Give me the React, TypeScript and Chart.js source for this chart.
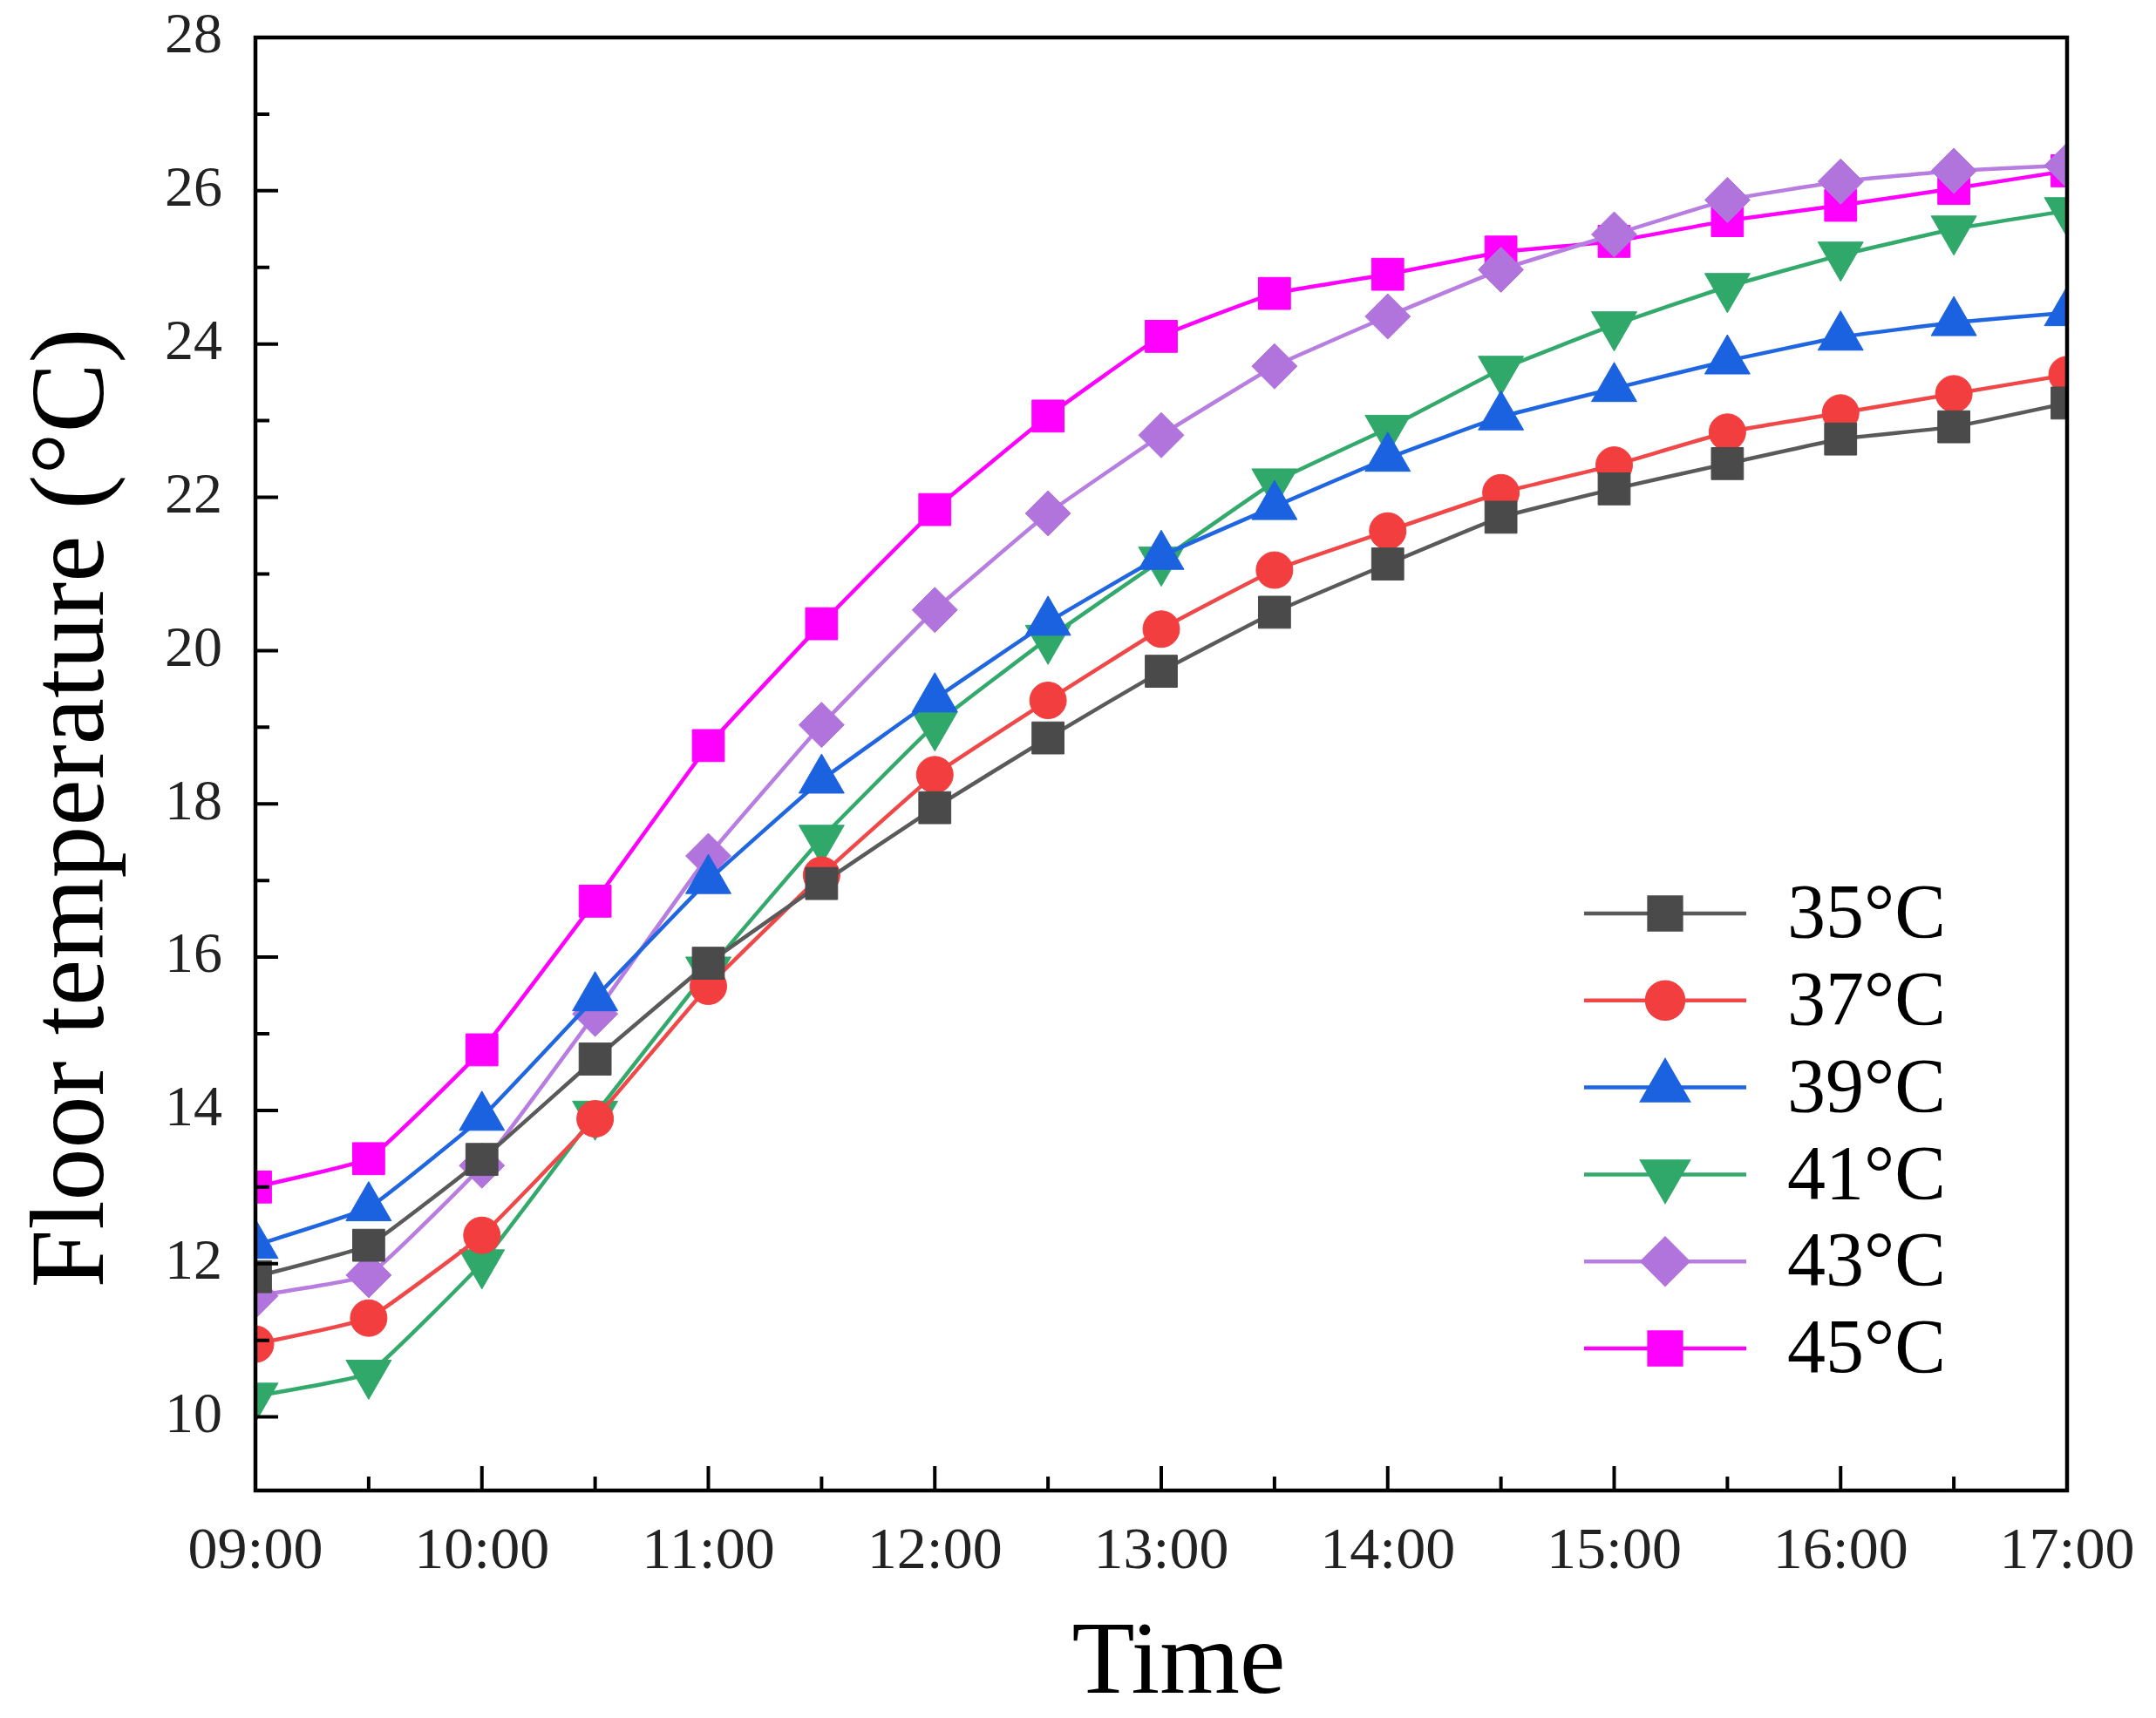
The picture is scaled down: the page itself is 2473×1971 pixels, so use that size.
import { useEffect, useRef } from 'react';
import { Chart, registerables } from 'chart.js';
import { drawPoint } from 'chart.js/helpers';

Chart.register(...registerables);

// time in hours (09:00 .. 17:00, every 30 min)
const times = [9, 9.5, 10, 10.5, 11, 11.5, 12, 12.5, 13, 13.5, 14, 14.5, 15, 15.5, 16, 16.5, 17];

const t35 = [11.83, 12.24, 13.36, 14.67, 15.92, 16.96, 17.95, 18.86, 19.73, 20.5, 21.13, 21.74, 22.11, 22.44, 22.76, 22.92, 23.23];
const t37 = [10.95, 11.29, 12.37, 13.89, 15.62, 17.07, 18.38, 19.35, 20.28, 21.05, 21.56, 22.06, 22.42, 22.85, 23.1, 23.35, 23.6];
const t39 = [12.24, 12.73, 13.91, 15.47, 17.0, 18.31, 19.37, 20.37, 21.23, 21.88, 22.51, 23.05, 23.42, 23.78, 24.09, 24.28, 24.41];
const t41 = [10.27, 10.57, 12.01, 13.95, 15.83, 17.55, 19.03, 20.16, 21.18, 22.2, 22.9, 23.67, 24.25, 24.75, 25.16, 25.5, 25.74];
const t43 = [11.58, 11.85, 13.28, 15.26, 17.32, 19.03, 20.53, 21.79, 22.81, 23.71, 24.36, 24.97, 25.43, 25.88, 26.12, 26.26, 26.33];
const t45 = [13.0, 13.37, 14.79, 16.73, 18.76, 20.35, 21.84, 23.06, 24.1, 24.66, 24.91, 25.2, 25.34, 25.61, 25.81, 26.03, 26.26];

const seriesNames = ['35°C', '37°C', '39°C', '41°C', '43°C', '45°C'];

const xMajorTicks = [9, 10, 11, 12, 13, 14, 15, 16, 17];
const xMinorTicks = [9.5, 10.5, 11.5, 12.5, 13.5, 14.5, 15.5, 16.5];
const xTickLabels = ['09:00', '10:00', '11:00', '12:00', '13:00', '14:00', '15:00', '16:00', '17:00'];
const yMajorTicks = [10, 12, 14, 16, 18, 20, 22, 24, 26, 28];
const yMinorTicks = [11, 13, 15, 17, 19, 21, 23, 25, 27];

const W = 2473;
const H = 1971;
const SERIF = '"Liberation Serif", "Times New Roman", serif';

const styles = [
    { line: '#5a5a5a', fill: '#4a4a4a', point: 'rect', rotation: 0, radius: 26 },
    { line: '#f04848', fill: '#f23e3e', point: 'circle', rotation: 0, radius: 21 },
    { line: '#1f66e0', fill: '#1a62e0', point: 'triangle', rotation: 0, radius: 30 },
    { line: '#33aa6c', fill: '#2fa86a', point: 'triangle', rotation: 180, radius: 30 },
    { line: '#b77de0', fill: '#b074dc', point: 'rectRot', rotation: 0, radius: 26 },
    { line: '#ff00ff', fill: '#ff00ff', point: 'rect', rotation: 0, radius: 26 },
];

const framePlugin = {
    id: 'frameAndLegend',
    afterDatasetsDraw(chart: any) {
        const { ctx, chartArea } = chart;
        const xs = chart.scales.x;
        const ys = chart.scales.y;
        ctx.save();
        ctx.strokeStyle = '#000';
        ctx.lineWidth = 4.5;
        ctx.strokeRect(chartArea.left, chartArea.top, chartArea.right - chartArea.left, chartArea.bottom - chartArea.top);

        // inward ticks
        ctx.lineWidth = 4;
        ctx.beginPath();
        xMajorTicks.forEach((v) => {
            const px = xs.getPixelForValue(v);
            ctx.moveTo(px, chartArea.bottom);
            ctx.lineTo(px, chartArea.bottom - 28);
        });
        xMinorTicks.forEach((v) => {
            const px = xs.getPixelForValue(v);
            ctx.moveTo(px, chartArea.bottom);
            ctx.lineTo(px, chartArea.bottom - 16);
        });
        yMajorTicks.forEach((v) => {
            const py = ys.getPixelForValue(v);
            ctx.moveTo(chartArea.left, py);
            ctx.lineTo(chartArea.left + 26, py);
        });
        yMinorTicks.forEach((v) => {
            const py = ys.getPixelForValue(v);
            ctx.moveTo(chartArea.left, py);
            ctx.lineTo(chartArea.left + 16, py);
        });
        ctx.stroke();

        // legend
        const lx1 = 1817;
        const lx2 = 2003;
        const mx = 1910;
        const tx = 2050;
        chart.data.datasets.forEach((ds: any, i: number) => {
            const y = 1048 + i * 99.8;
            const st = styles[i];
            ctx.strokeStyle = st.line;
            ctx.lineWidth = 4.5;
            ctx.beginPath();
            ctx.moveTo(lx1, y);
            ctx.lineTo(lx2, y);
            ctx.stroke();
            ctx.fillStyle = st.fill;
            ctx.strokeStyle = st.fill;
            drawPoint(ctx, { pointStyle: st.point, rotation: st.rotation, radius: st.radius, borderWidth: 1 }, mx, y);
            ctx.fillStyle = '#000';
            ctx.font = `88px ${SERIF}`;
            ctx.textAlign = 'left';
            ctx.textBaseline = 'middle';
            ctx.fillText(ds.label, tx, y + 4);
        });
        ctx.restore();
    },
    afterDraw(chart: any) {
        const { ctx } = chart;
        ctx.save();
        ctx.fillStyle = '#000';
        ctx.font = `120px ${SERIF}`;
        ctx.textAlign = 'center';
        ctx.textBaseline = 'alphabetic';
        ctx.translate(118, 927);
        ctx.rotate(-Math.PI / 2);
        ctx.fillText('Floor temperature (°C)', 0, 0);
        ctx.restore();

        ctx.save();
        ctx.fillStyle = '#000';
        ctx.font = `118px ${SERIF}`;
        ctx.textAlign = 'center';
        ctx.textBaseline = 'alphabetic';
        ctx.fillText('Time', 1352, 1942);
        ctx.restore();
    },
};

const allSeries = [t35, t37, t39, t41, t43, t45];

export default function App() {
    const canvasRef = useRef<HTMLCanvasElement>(null);

    useEffect(() => {
        document.body.style.margin = '0';
        if (!canvasRef.current) return;
        const ctx = canvasRef.current.getContext('2d');
        if (!ctx) return;

        const chart = new Chart(ctx, {
            type: 'line',
            data: {
                datasets: allSeries.map((s, i) => ({
                    label: seriesNames[i],
                    data: s.map((v, j) => ({ x: times[j], y: v })),
                    borderColor: styles[i].line,
                    backgroundColor: styles[i].fill,
                    borderWidth: 4.5,
                    pointStyle: styles[i].point as any,
                    pointRotation: styles[i].rotation,
                    pointRadius: styles[i].radius,
                    pointBackgroundColor: styles[i].fill,
                    pointBorderColor: styles[i].fill,
                    pointBorderWidth: 1,
                    tension: 0.1,
                    fill: false,
                })),
            },
            options: {
                responsive: false,
                animation: false,
                devicePixelRatio: 1,
                layout: { padding: { top: 43, right: 102, left: 0, bottom: 0 } },
                plugins: {
                    legend: { display: false },
                    tooltip: { enabled: false },
                },
                scales: {
                    x: {
                        type: 'linear',
                        min: 9,
                        max: 17,
                        afterBuildTicks: (s: any) => {
                            s.ticks = xMajorTicks.map((v) => ({ value: v }));
                        },
                        afterFit: (s: any) => {
                            s.height = H - 1710;
                            s.paddingLeft = 0;
                            s.paddingRight = 0;
                        },
                        ticks: {
                            autoSkip: false,
                            maxRotation: 0,
                            padding: 30,
                            color: '#222',
                            font: { family: SERIF, size: 68 },
                            callback: (v: any) => xTickLabels[xMajorTicks.indexOf(Number(v))],
                        },
                        grid: { display: false, drawTicks: false },
                        border: { display: false },
                    },
                    y: {
                        type: 'linear',
                        min: 9.04,
                        max: 28,
                        afterBuildTicks: (s: any) => {
                            s.ticks = yMajorTicks.map((v) => ({ value: v }));
                        },
                        afterFit: (s: any) => {
                            s.width = 293;
                            s.paddingTop = 0;
                            s.paddingBottom = 0;
                        },
                        ticks: {
                            padding: 38,
                            color: '#222',
                            font: { family: SERIF, size: 66 },
                            callback: (v: any) => String(v),
                        },
                        grid: { display: false, drawTicks: false },
                        border: { display: false },
                    },
                },
            },
            plugins: [framePlugin],
        });

        return () => {
            chart.destroy();
        };
    }, []);

    return (
        <div style={{ width: W, height: H, overflow: 'hidden' }}>
            <canvas ref={canvasRef} width={W} height={H} style={{ display: 'block' }}></canvas>
        </div>
    );
}
